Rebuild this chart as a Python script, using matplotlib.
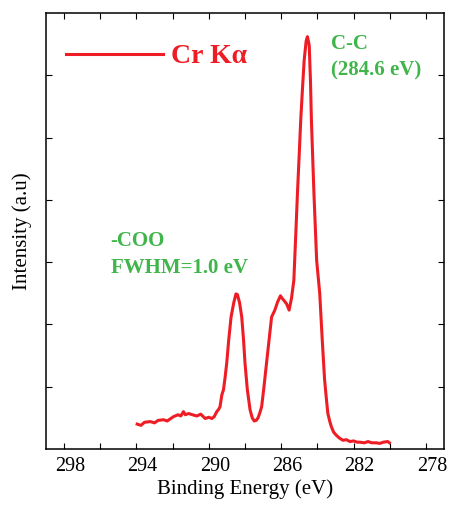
import matplotlib
matplotlib.use("Agg")
import matplotlib.pyplot as plt
import matplotlib.transforms as mtransforms

# XPS C 1s spectrum
energy = [293.96, 293.75, 293.55, 293.23, 293.0, 292.8, 292.5, 292.3, 292.1,
          291.95, 291.7, 291.55, 291.4, 291.3, 291.12, 290.9, 290.66, 290.45,
          290.2, 290.0, 289.83, 289.7, 289.56, 289.45, 289.38, 289.28, 289.19,
          289.1, 289.01, 288.9, 288.77, 288.62, 288.5, 288.42, 288.3, 288.18,
          288.08, 288.0, 287.87, 287.72, 287.6, 287.49, 287.38, 287.28, 287.18,
          287.08, 286.95, 286.81, 286.67, 286.53, 286.35, 286.2, 286.04, 285.95,
          285.86, 285.7, 285.56, 285.43, 285.3, 285.2, 285.1, 285.0, 284.92,
          284.82, 284.73, 284.62, 284.55, 284.45, 284.38, 284.33, 284.19, 284.04,
          283.87, 283.73, 283.6, 283.5, 283.42, 283.32, 283.23, 283.1, 282.95,
          282.8, 282.59, 282.4, 282.2, 282.0, 281.8, 281.67, 281.4, 281.2, 281.0,
          280.75, 280.55, 280.35, 280.11, 280.02]
intensity = [0.40, 0.38, 0.43, 0.44, 0.42, 0.46, 0.47, 0.45, 0.49,
             0.52, 0.55, 0.53, 0.60, 0.55, 0.57, 0.55, 0.53, 0.56,
             0.49, 0.51, 0.49, 0.52, 0.60, 0.64, 0.68, 0.87, 0.95,
             1.15, 1.38, 1.75, 2.12, 2.35, 2.49, 2.48, 2.35, 2.12,
             1.75, 1.38, 0.95, 0.63, 0.50, 0.45, 0.46, 0.50, 0.58,
             0.68, 1.00, 1.38, 1.75, 2.12, 2.23, 2.36, 2.46, 2.42,
             2.39, 2.33, 2.23, 2.42, 2.71, 3.40, 4.11, 4.75, 5.28,
             5.80, 6.24, 6.55, 6.62, 6.48, 5.90, 5.28, 4.11, 3.03,
             2.50, 1.75, 1.11, 0.80, 0.57, 0.45, 0.36, 0.27, 0.22,
             0.18, 0.14, 0.15, 0.12, 0.13, 0.11, 0.11, 0.10, 0.12, 0.10,
             0.10, 0.09, 0.11, 0.12, 0.10]

major_ticks = [298, 294, 290, 286, 282, 278]
minor_ticks = [296, 292, 288, 284, 280]
y_ticks = [1, 2, 3, 4, 5, 6]

red = "#ee1d25"
green = "#3fb54a"

plt.rcParams["font.family"] = ["Liberation Serif", "DejaVu Serif"]

fig = plt.figure(figsize=(4.49, 5.08), dpi=100)
ax = fig.add_axes([0.1024, 0.1161, 0.8865, 0.8583])

ax.plot(energy, intensity, color=red, lw=2.2, label="Cr K\u03b1")

ax.set_xlim(299, 277)
ax.set_ylim(0, 7)
ax.set_xticks(major_ticks)
ax.set_xticks(minor_ticks, minor=True)
ax.set_yticks(y_ticks)
ax.set_yticklabels([])
ax.tick_params(which="both", direction="in", top=True, right=True,
               length=4.5, width=0.8, labelsize=14.5, pad=6)

# tick labels sit a little to the right of the ticks in the original
shift = mtransforms.ScaledTranslation(6 / 100, 0, fig.dpi_scale_trans)
for lab in ax.get_xticklabels():
    lab.set_transform(lab.get_transform() + shift)

for s in ax.spines.values():
    s.set_linewidth(1.1)

ax.set_xlabel("Binding Energy (eV)", fontsize=15, labelpad=2)
ax.set_ylabel("Intensity (a.u)", fontsize=15, labelpad=4)

leg = ax.legend(loc="center left", bbox_to_anchor=(0.022, 0.90),
                frameon=False, handlelength=3.5, handletextpad=0.3,
                borderaxespad=0, prop={"weight": "bold", "size": 20})
for t in leg.get_texts():
    t.set_color(red)

ax.text(283.27, 6.66, "C-C\n(284.6 eV)", color=green, fontsize=15,
        fontweight="bold", ha="left", va="top", linespacing=1.45)
ax.text(295.42, 3.5, "-COO\nFWHM=1.0 eV", color=green, fontsize=15,
        fontweight="bold", ha="left", va="top", linespacing=1.45)

fig.savefig("out.png", dpi=100)
